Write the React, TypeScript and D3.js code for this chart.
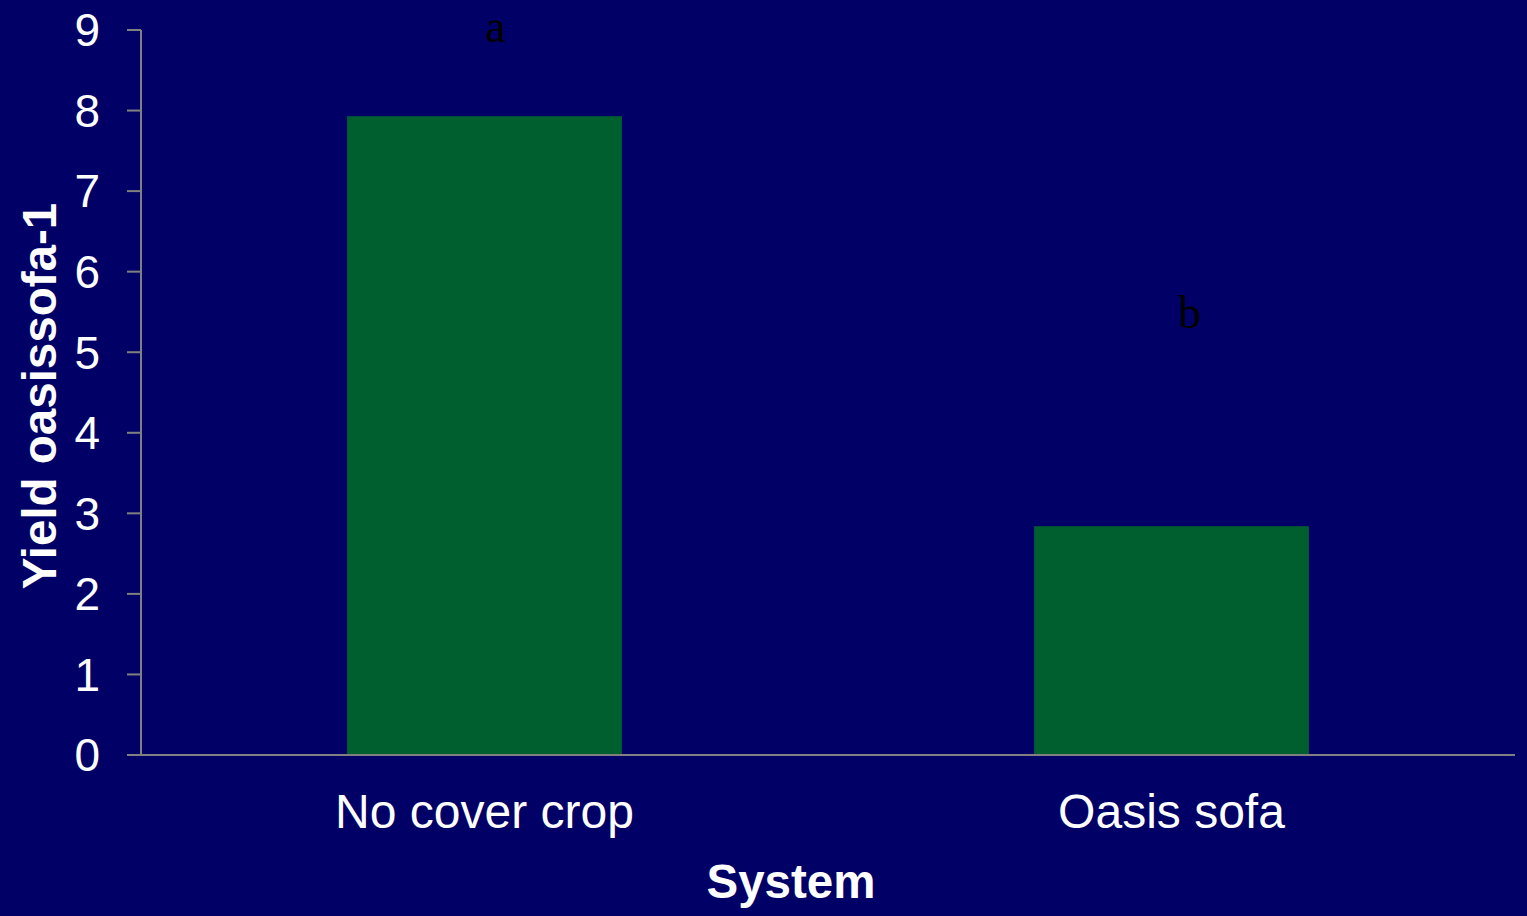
import React from "react";
import * as d3 from "d3";

const categories = ["No cover crop", "Oasis sofa"];
const values = [7.93, 2.84];
const letters = ["a", "b"];
const letterValues = [8.85, 5.3];
const yTicks = [0, 1, 2, 3, 4, 5, 6, 7, 8, 9];

const W = 1527;
const H = 916;
const BG = "#000066";
const BAR = "#005f2e";
const AXIS = "#808080";
const FONT = "'Liberation Sans', Arial, sans-serif";

export default function App() {
  const left = 141;
  const right = 1515;
  const top = 30;
  const bottom = 755;
  const x = d3.scaleBand<string>().domain(categories).range([left, right]).paddingInner(0.6).paddingOuter(0.3);
  const y = d3.scaleLinear().domain([0, 9]).range([bottom, top]);

  return (
    <svg width={W} height={H} style={{ position: "fixed", left: 0, top: 0, display: "block" }}>
      <rect x={0} y={0} width={W} height={H} fill={BG} />
      {categories.map((c, i) => (
        <rect key={c} x={x(c)} y={y(values[i])} width={x.bandwidth()} height={y(0) - y(values[i])} fill={BAR} />
      ))}
      <line x1={left} x2={left} y1={top} y2={bottom} stroke={AXIS} strokeWidth={2} />
      <line x1={127} x2={right} y1={bottom} y2={bottom} stroke={AXIS} strokeWidth={2} />
      {yTicks.map((t) => (
        <g key={t}>
          <line x1={127} x2={left} y1={y(t)} y2={y(t)} stroke={AXIS} strokeWidth={2} />
          <text x={100} y={y(t)} dy="0.355em" textAnchor="end" fill="#ffffff" fontFamily={FONT} fontSize={46}>
            {t}
          </text>
        </g>
      ))}
      {categories.map((c) => (
        <text key={c} x={(x(c) as number) + x.bandwidth() / 2} y={828} textAnchor="middle" fill="#ffffff" fontFamily={FONT} fontSize={48}>
          {c}
        </text>
      ))}
      {categories.map((c, i) => (
        <text key={"l" + c} x={(x(c) as number) + x.bandwidth() / 2 + (i === 0 ? 11 : 18)} y={y(letterValues[i])} textAnchor="middle" fill="#000000" fontFamily="Liberation Serif, Times New Roman, serif" fontSize={46}>
          {letters[i]}
        </text>
      ))}
      <text x={791} y={898} textAnchor="middle" fill="#ffffff" fontFamily={FONT} fontWeight="bold" fontSize={47.5}>
        System
      </text>
      <text transform={`translate(56,396) rotate(-90)`} textAnchor="middle" fill="#ffffff" fontFamily={FONT} fontWeight="bold" fontSize={47.5}>
        Yield oasissofa-1
      </text>
    </svg>
  );
}
